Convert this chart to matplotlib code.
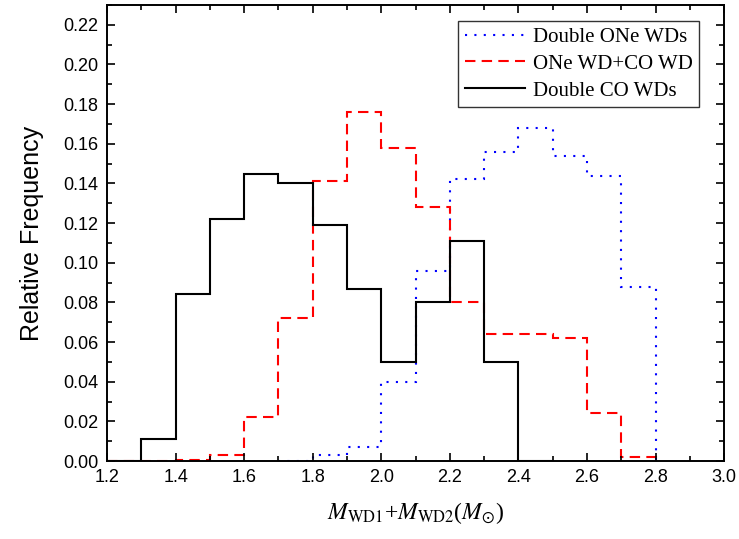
import matplotlib
matplotlib.use("Agg")
import matplotlib.pyplot as plt
from matplotlib.ticker import MultipleLocator, FormatStrFormatter

plt.rcParams['mathtext.fontset'] = 'stix'

edges = [1.2, 1.3, 1.4, 1.5, 1.6, 1.7, 1.8, 1.9, 2.0, 2.1, 2.2, 2.3, 2.4, 2.5, 2.6, 2.7, 2.8]
one_one = [0, 0, 0, 0, 0, 0, 0.003, 0.007, 0.040, 0.096, 0.142, 0.156, 0.168, 0.154, 0.144, 0.088]
one_co = [0, 0, 0.0005, 0.003, 0.022, 0.072, 0.141, 0.176, 0.158, 0.128, 0.080, 0.064, 0.064, 0.062, 0.024, 0.002]
co_co = [0, 0.011, 0.084, 0.122, 0.145, 0.140, 0.119, 0.087, 0.050, 0.080, 0.111, 0.050, 0, 0, 0, 0]

fig = plt.figure(figsize=(7.39, 5.39), dpi=100)
ax = fig.add_axes([0.1448, 0.1447, 0.8350, 0.8460])

ax.stairs(one_one[5:], edges[5:], color='blue', lw=1.5, linestyle=(0, (1, 3.5)), label='Double ONe WDs')
ax.stairs(one_co, edges, color='red', lw=1.5, linestyle=(0, (5, 3)), label='ONe WD+CO WD')
ax.stairs(co_co[:13], edges[:14], color='black', lw=1.5, label='Double CO WDs')

ax.set_xlim(1.2, 3.0)
ax.set_ylim(0, 0.23)
ax.xaxis.set_major_locator(MultipleLocator(0.2))
ax.xaxis.set_minor_locator(MultipleLocator(0.1))
ax.yaxis.set_major_locator(MultipleLocator(0.02))
ax.yaxis.set_minor_locator(MultipleLocator(0.01))
ax.xaxis.set_major_formatter(FormatStrFormatter('%.1f'))
ax.yaxis.set_major_formatter(FormatStrFormatter('%.2f'))
ax.tick_params(which='both', direction='in', top=True, right=True, width=1.2,
               labelsize=13, labelfontfamily='Liberation Sans')
ax.tick_params(which='major', length=6, pad=6)
ax.tick_params(which='minor', length=3.5)
for s in ax.spines.values():
    s.set_linewidth(1.4)

ax.set_ylabel('Relative Frequency', fontsize=18, family='Liberation Sans', labelpad=14)
ax.set_xlabel(r'$M_{\rm WD1}$+$M_{\rm WD2}$($M_{\odot}$)', fontsize=17,
              family='Liberation Serif', labelpad=10)

leg = ax.legend(loc='upper right', bbox_to_anchor=(0.96, 0.965), frameon=True, fancybox=False,
                edgecolor='black', prop={'family': 'Liberation Serif', 'size': 15},
                handlelength=2.9, borderpad=0.3, labelspacing=0.35, handletextpad=0.4,
                borderaxespad=0)
leg.get_frame().set_linewidth(1.0)

fig.savefig('out.png', dpi=100)
